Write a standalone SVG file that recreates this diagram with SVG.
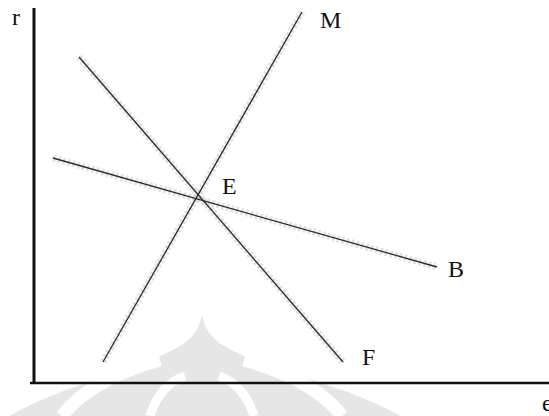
<svg xmlns="http://www.w3.org/2000/svg" width="549" height="416" viewBox="0 0 549 416">
<style>
.lbl{font-family:"Liberation Serif","Times New Roman",serif;font-size:24px;fill:#111}
.halo{stroke:#d9d9d9;stroke-width:7;stroke-dasharray:3 2;fill:none;opacity:0.7}
.ln{stroke:#2a2a2a;stroke-width:1.3;fill:none}
.ax{stroke:#111;fill:none}
.wm{fill:#e6e6e6}
.wmc{stroke:#fff;fill:none}
</style>
<rect width="549" height="416" fill="#fff"/>
<g id="watermark">
<path class="wm" d="M 10 416 C 60 385 150 368 186 342 C 196 334 200 325 202 315 C 204 325 208 334 218 342 C 254 368 350 385 400 416 Z"/>
<path class="wmc" stroke-width="13" d="M 62 416 C 80 392 115 372 160 360"/>
<path class="wmc" stroke-width="13" d="M 342 416 C 324 392 289 372 244 360"/>
<path class="wmc" stroke-width="9" d="M 150 416 C 156 396 168 382 185 376"/>
<path class="wmc" stroke-width="9" d="M 254 416 C 248 396 236 382 219 376"/>
</g>
<g id="axes">
<line class="ax" x1="34" y1="8" x2="34" y2="384" stroke-width="3"/>
<line class="ax" x1="30" y1="383" x2="549" y2="383" stroke-width="2.6"/>
</g>
<g id="connectors">
<line class="halo" x1="103" y1="362" x2="302" y2="12"/>
<line class="halo" x1="79" y1="57" x2="343" y2="362"/>
<line class="halo" x1="53" y1="158" x2="437" y2="267"/>
<line class="ln" x1="103" y1="362" x2="302" y2="12"/>
<line class="ln" x1="79" y1="57" x2="343" y2="362"/>
<line class="ln" x1="53" y1="158" x2="437" y2="267"/>
</g>
<g id="labels">
<text class="lbl" x="12" y="25">r</text>
<text class="lbl" x="320" y="28">M</text>
<text class="lbl" x="222" y="194">E</text>
<text class="lbl" x="448" y="277">B</text>
<text class="lbl" x="362" y="365">F</text>
<text class="lbl" x="542" y="411">e</text>
</g>
</svg>
